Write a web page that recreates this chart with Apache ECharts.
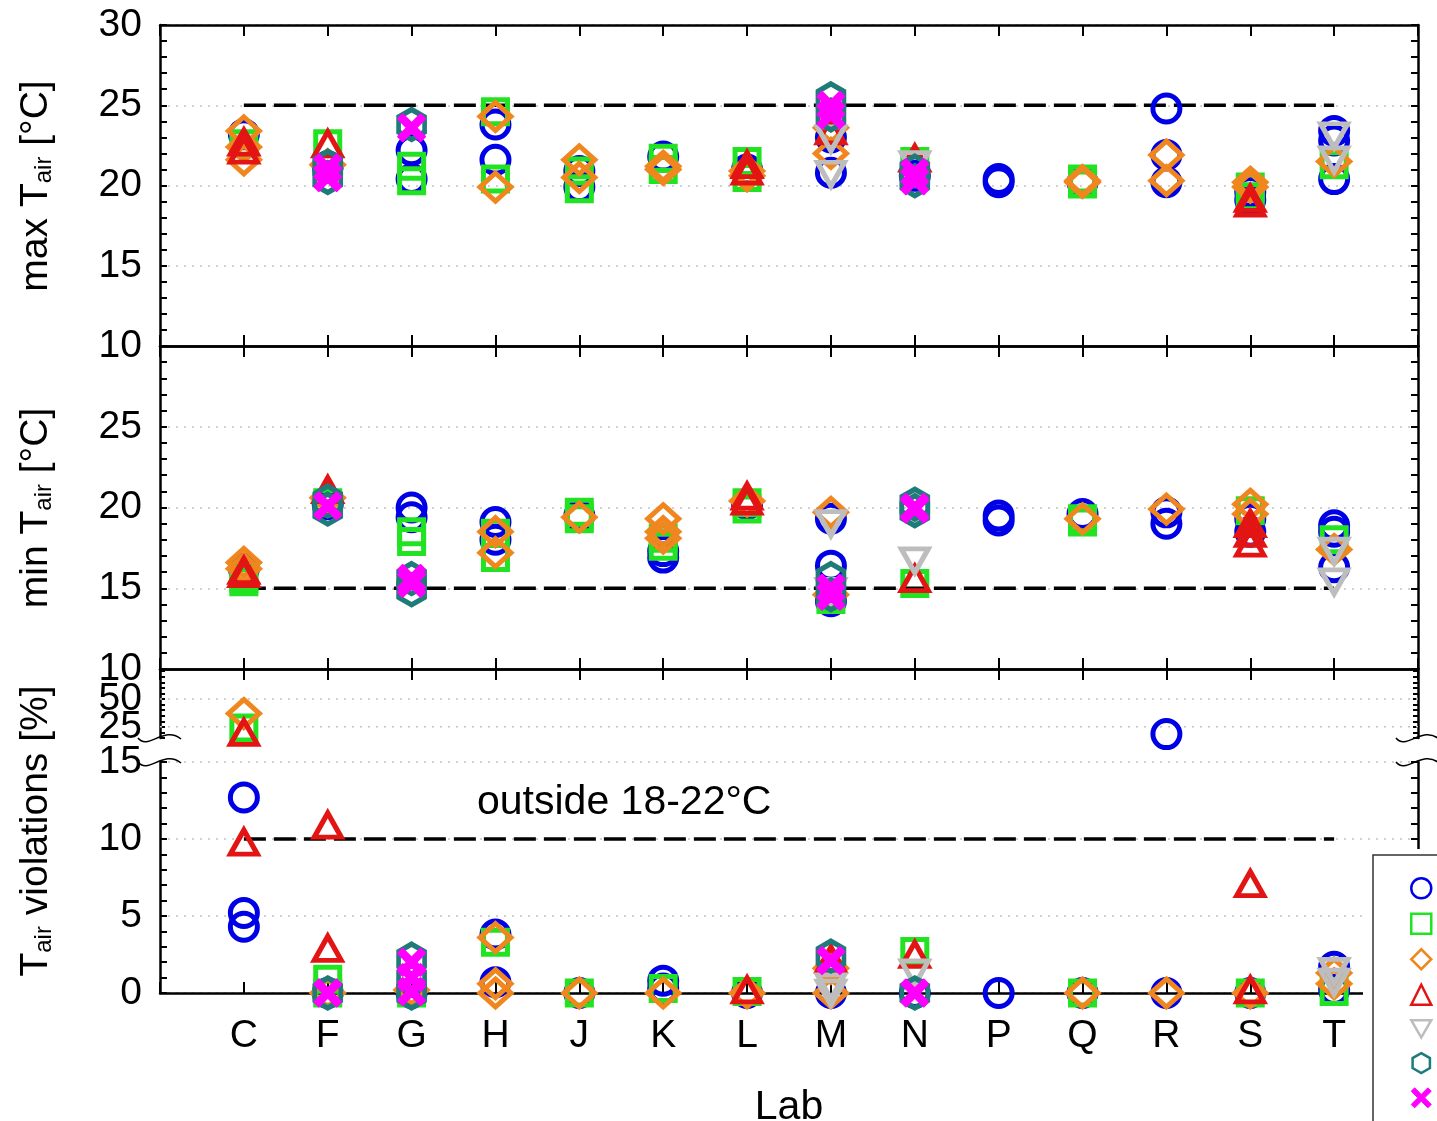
<!DOCTYPE html>
<html>
<head>
<meta charset="utf-8">
<script src="https://cdn.jsdelivr.net/npm/echarts@6/dist/echarts.min.js"></script>
<style>
  html, body { margin: 0; padding: 0; background: #fff; }
  #chart { width: 1437px; height: 1121px; }
</style>
</head>
<body>
<div id="chart"></div>
<script>
// ---- data ---------------------------------------------------------------
const labs = ['C', 'F', 'G', 'H', 'J', 'K', 'L', 'M', 'N', 'P', 'Q', 'R', 'S', 'T'];
const seriesNames = ['Series 1', 'Series 2', 'Series 3', 'Series 4', 'Series 5', 'Series 6', 'Series 7'];

// maximum air temperature per lab [°C] (one list of readings per lab)
const maxBlue    = [[23.2], [21.2], [22.2, 20.4], [23.8, 21.6], [20.9, 19.9], [21.8], [21.0], [23.0, 20.8], [20.6], [20.4, 20.2], [20.2], [24.8, 21.9, 20.2], [19.6, 19.1], [23.4, 22.8, 20.4]];
const maxGreen   = [[22.6], [22.6], [21.2, 20.3], [24.6, 20.4], [20.9, 19.8], [21.7, 21.0], [21.5, 20.5], [], [21.5], [], [20.4, 20.1], [], [19.9, 19.3], [21.3]];
const maxOrange  = [[23.4, 22.4, 21.6], [21.3], [], [24.3, 19.9], [21.6, 20.5], [21.2, 21.0], [20.9, 20.6], [23.6, 22.0], [], [], [20.3, 20.2], [21.9, 20.3], [20.2, 19.9], [21.5]];
const maxRed     = [[22.7, 22.2], [22.6], [], [], [], [], [21.3, 20.9], [23.4], [21.7], [], [], [], [19.2, 18.9], []];
const maxGray    = [[], [], [], [], [], [], [], [22.9, 20.7], [21.3], [], [], [], [], [23.1, 21.6]];
const maxTeal    = [[], [21.2, 20.5], [23.8], [], [], [], [], [25.4, 24.4], [20.9, 20.3], [], [], [], [], []];
const maxMagenta = [[], [21.1, 20.5], [23.6], [], [], [], [], [25.0, 24.4], [20.8, 20.3], [], [], [], [], []];

// minimum air temperature per lab [°C]
const minBlue    = [[16.2], [20.2], [20.0, 19.4], [19.1, 18.0], [19.5], [17.3, 16.9], [20.2], [19.3, 16.4, 14.2], [], [19.5, 19.2], [19.6], [19.7, 19.0], [19.3, 18.5], [18.9, 18.5, 16.3]];
const minGreen   = [[15.6, 15.4], [20.3], [18.5, 17.9], [18.4, 16.9], [19.7, 19.3], [18.1, 17.6], [20.3, 19.9], [14.3], [15.3], [], [19.3, 19.1], [], [19.8], [18.0]];
const minOrange  = [[16.6, 16.2], [20.6], [], [18.5, 17.2], [19.4], [19.3, 18.5, 18.1], [20.4], [19.7, 14.6], [], [], [19.3], [19.9], [20.2, 19.6], [17.4]];
const minRed     = [[16.1, 15.9], [21.1], [], [], [], [], [20.7, 20.4], [], [15.6], [], [], [], [19.0, 18.4, 17.8], []];
const minGray    = [[], [], [], [], [], [], [], [19.0, 14.8], [16.7], [], [], [], [], [17.3, 15.4]];
const minTeal    = [[], [20.4, 19.9], [15.6, 14.9], [], [], [], [], [15.6, 14.6], [20.2, 19.8], [], [], [], [], []];
const minMagenta = [[], [20.1], [15.6, 15.3], [], [], [], [], [15.0, 14.5], [20.0, 19.9], [], [], [], [], []];

// share of time with air temperature outside 18-22 °C [%]
const violBlue    = [[12.7, 5.2, 4.3], [0], [0], [3.8, 0.7], [0], [0.8, 0.3], [0], [0], [0], [0], [0], [18.5, 0], [0], [1.7, 0.2]];
const violGreen   = [[24], [0.9, 0], [0], [3.3], [0], [0.3], [0.1], [], [2.7], [], [0], [], [0], [0.1]];
const violOrange  = [[37], [0], [0.2], [3.6, 0.6, 0], [0], [0], [0], [1.6, 0], [], [], [0], [0], [0], [1.3, 0.6]];
const violRed     = [[20, 9.8], [10.9, 2.9], [], [], [], [], [0.2], [2.2], [2.5], [], [], [], [7.1, 0.2], []];
const violGray    = [[], [], [], [], [], [], [], [0.4, 0], [1.3], [], [], [], [], [1.4, 0.7]];
const violTeal    = [[], [0], [2.2, 0.9, 0], [], [], [], [], [2.4], [0], [], [], [], [], []];
const violMagenta = [[], [0], [2.0, 1.0, 0.1], [], [], [], [], [2.1], [0], [], [], [], [], []];

// limits and axis ticks
const maxLimit = 25;
const minLimit = 15;
const violLimit = 10;
const violNote = 'outside 18-22°C';
const tempTicks = [10, 15, 20, 25, 30];
const violLowTicks = [0, 5, 10, 15];
const violHighTicks = [25, 50];
const violHighRange = [15, 77];

// ---- styling --------------------------------------------------------------
const FONT = "'Liberation Sans', Arial, Helvetica, sans-serif";
const FS = 39;
const HEX = 'path://M50,0 L93.3,25 L93.3,75 L50,100 L6.7,75 L6.7,25 Z';
const XMARK = 'path://M0,17 L17,0 L50,33 L83,0 L100,17 L67,50 L100,83 L83,100 L50,67 L17,100 L0,83 L33,50 Z';
const DOWN_TRI = 'path://M0,0 L100,0 L50,86.6 Z';
const markers = [
  { color: '#0000e6', symbol: 'circle',  size: 27,       hollow: true },
  { color: '#22e322', symbol: 'rect',    size: 24,       hollow: true },
  { color: '#f0871e', symbol: 'diamond', size: [31, 28], hollow: true },
  { color: '#e31414', symbol: 'triangle', size: [27, 24], hollow: true },
  { color: '#bdbdbd', symbol: DOWN_TRI,  size: [27, 24], hollow: true },
  { color: '#1f7a7a', symbol: HEX,       size: [26, 30], hollow: true },
  { color: '#ff00ff', symbol: XMARK,     size: 27,       hollow: false }
];
const maxSets  = [maxBlue, maxGreen, maxOrange, maxRed, maxGray, maxTeal, maxMagenta];
const minSets  = [minBlue, minGreen, minOrange, minRed, minGray, minTeal, minMagenta];
const violSets = [violBlue, violGreen, violOrange, violRed, violGray, violTeal, violMagenta];

const xCategories = [''].concat(labs, [' ']);
const LEFT = 160, WIDTH = 1258;
const grids = [
  { left: LEFT, width: WIDTH, top: 25,  height: 321, outerBoundsMode: 'none' },
  { left: LEFT, width: WIDTH, top: 346, height: 323, outerBoundsMode: 'none' },
  { left: LEFT, width: WIDTH, top: 669, height: 69,  outerBoundsMode: 'none' },
  { left: LEFT, width: WIDTH, top: 762, height: 231, outerBoundsMode: 'none' }
];

const axisLineStyle = { color: '#000', width: 2.5 };
const gridDots = { show: true, lineStyle: { color: '#c2c2c2', width: 1.5, type: [2, 6] } };
const labelStyle = { color: '#000', fontSize: FS, fontFamily: FONT };

function xAxisDef(gridIndex, position, showLabels, extra) {
  return Object.assign({
    type: 'category', gridIndex, position, data: xCategories, boundaryGap: false,
    axisLine: { show: true, onZero: false, lineStyle: axisLineStyle },
    axisTick: { show: true, inside: true, length: 11, interval: 0, lineStyle: { color: '#000', width: 2 } },
    axisLabel: Object.assign({ show: showLabels, interval: 0, margin: 24 }, labelStyle),
    splitLine: { show: false }
  }, extra || {});
}

function yAxisDef(gridIndex, position, ticks, opts) {
  opts = opts || {};
  const left = position === 'left';
  return {
    type: 'value', gridIndex, position,
    min: opts.min !== undefined ? opts.min : ticks[0],
    max: opts.max !== undefined ? opts.max : ticks[ticks.length - 1],
    interval: opts.interval || (ticks[1] - ticks[0]),
    axisLine: { show: true, lineStyle: axisLineStyle },
    axisTick: { show: true, inside: true, length: opts.tickLen || 7, lineStyle: { color: '#000', width: 2 } },
    minorTick: { show: !!opts.minor, splitNumber: 5, length: 7, lineStyle: { color: '#000', width: 2 } },
    axisLabel: Object.assign({
      show: left, margin: 18, showMaxLabel: opts.showMax !== false, showMinLabel: true,
      formatter: opts.formatter
    }, labelStyle),
    splitLine: left && opts.grid ? gridDots : { show: false }
  };
}

const xAxes = [
  xAxisDef(0, 'bottom', false),
  xAxisDef(0, 'top', false),
  xAxisDef(1, 'bottom', false),
  xAxisDef(1, 'top', false),
  xAxisDef(2, 'top', false),
  xAxisDef(3, 'bottom', true, {
    name: 'Lab', nameLocation: 'middle', nameGap: 94,
    nameTextStyle: { color: '#000', fontSize: 41, fontFamily: FONT }
  })
];

const highLabel = v => (violHighTicks.indexOf(v) >= 0 ? String(v) : '');
const yAxes = [
  yAxisDef(0, 'left', tempTicks, { minor: true, grid: true }),
  yAxisDef(0, 'right', tempTicks, { minor: true }),
  yAxisDef(1, 'left', tempTicks, { minor: true, grid: true, showMax: false }),
  yAxisDef(1, 'right', tempTicks, { minor: true }),
  yAxisDef(2, 'left', violHighTicks, { min: violHighRange[0], max: violHighRange[1], interval: 5, tickLen: 5, formatter: highLabel }),
  yAxisDef(2, 'right', violHighTicks, { min: violHighRange[0], max: violHighRange[1], interval: 5, tickLen: 5 }),
  yAxisDef(3, 'left', violLowTicks, { minor: true, grid: true }),
  yAxisDef(3, 'right', violLowTicks, { minor: true })
];

function points(perLab, keep) {
  const out = [];
  perLab.forEach((vals, i) => vals.forEach(v => { if (!keep || keep(v)) out.push([labs[i], v]); }));
  return out;
}

function scatter(k, xIdx, yIdx, data) {
  const m = markers[k];
  return {
    type: 'scatter', name: seriesNames[k], xAxisIndex: xIdx, yAxisIndex: yIdx, data,
    symbol: m.symbol, symbolSize: m.size, silent: true, z: 3,
    itemStyle: m.hollow
      ? { color: 'rgba(255,255,255,0)', borderColor: m.color, borderWidth: 5, opacity: 1 }
      : { color: m.color, borderColor: m.color, borderWidth: 2, borderJoin: 'round', opacity: 1 }
  };
}

function limitLine(xIdx, yIdx, value) {
  return {
    type: 'line', xAxisIndex: xIdx, yAxisIndex: yIdx, silent: true, z: 2,
    data: [[labs[0], value], [labs[labs.length - 1], value]],
    symbol: 'none', lineStyle: { color: '#000', width: 3.5, type: [22, 8] }
  };
}

const series = [
  limitLine(0, 0, maxLimit),
  limitLine(2, 2, minLimit),
  limitLine(5, 6, violLimit)
];
// dotted grid lines of the upper (compressed) part of the violations axis
violHighTicks.forEach(v => series.push({
  type: 'line', xAxisIndex: 4, yAxisIndex: 4, silent: true, z: 1,
  data: [[0, v], [xCategories.length - 1, v]], symbol: 'none',
  lineStyle: gridDots.lineStyle
}));
for (let k = 0; k < markers.length; k++) {
  series.push(scatter(k, 0, 0, points(maxSets[k])));
  series.push(scatter(k, 2, 2, points(minSets[k])));
  series.push(scatter(k, 4, 4, points(violSets[k], v => v >= violHighRange[0])));
  series.push(scatter(k, 5, 6, points(violSets[k], v => v < violHighRange[0])));
}

// axis titles with subscript
function yTitle(x, y, head, tail) {
  return {
    type: 'text', x, y, rotation: Math.PI / 2, silent: true,
    style: {
      text: '{n|' + head + '}{s|air}{n|' + tail + '}',
      align: 'center', verticalAlign: 'middle',
      rich: {
        n: { fontSize: FS, fontFamily: FONT, fill: '#000', lineHeight: 40 },
        s: { fontSize: 24, fontFamily: FONT, fill: '#000', lineHeight: 16, verticalAlign: 'bottom' }
      }
    }
  };
}

// broken-axis marks between the two parts of the violations axis
function breakMark(cx, cy) {
  return {
    type: 'bezierCurve', silent: true, z: 5,
    shape: { x1: cx - 22, y1: cy, cpx1: cx - 12, cpy1: cy + 13, cpx2: cx + 4, cpy2: cy - 13, x2: cx + 21, y2: cy + 1 },
    style: { stroke: '#000', lineWidth: 1.6, fill: null }
  };
}

const legendData = seriesNames.map((n, k) => ({
  name: n,
  icon: markers[k].symbol,
  itemStyle: markers[k].hollow
    ? { color: 'rgba(255,255,255,0)', borderColor: markers[k].color, borderWidth: 2.5, opacity: 1 }
    : { color: markers[k].color, borderColor: markers[k].color, borderWidth: 1, opacity: 1 }
}));

const option = {
  animation: false,
  backgroundColor: '#fff',
  grid: grids,
  xAxis: xAxes,
  yAxis: yAxes,
  series,
  legend: {
    data: legendData, orient: 'vertical', left: 1373, top: 855, height: 320, width: 300,
    padding: [22, 300, 40, 37], itemWidth: 20, itemHeight: 20, itemGap: 13,
    backgroundColor: '#fff', borderColor: '#333', borderWidth: 1.5,
    selectedMode: false, z: 6,
    textStyle: { color: '#000', fontSize: 12, lineHeight: 12, fontFamily: FONT, padding: [0, 0, 0, 20] }
  },
  graphic: [
    yTitle(36, 186, 'max T', ' [°C]'),
    yTitle(36, 508, 'min T', ' [°C]'),
    yTitle(36, 831, 'T', ' violations [%]'),
    {
      type: 'text', x: 477, y: 803, silent: true,
      style: { text: violNote, fontSize: 41, fontFamily: FONT, fill: '#000', align: 'left', verticalAlign: 'middle' }
    },
    breakMark(160, 738), breakMark(160, 762),
    breakMark(1418, 738), breakMark(1418, 762),
    { type: 'rect', silent: true, z: 4, shape: { x: 1363, y: 849, width: 80, height: 280 }, style: { fill: '#fff' } }
  ]
};

const chart = echarts.init(document.getElementById('chart'), null, { renderer: 'canvas' });
chart.setOption(option);
</script>
</body>
</html>
